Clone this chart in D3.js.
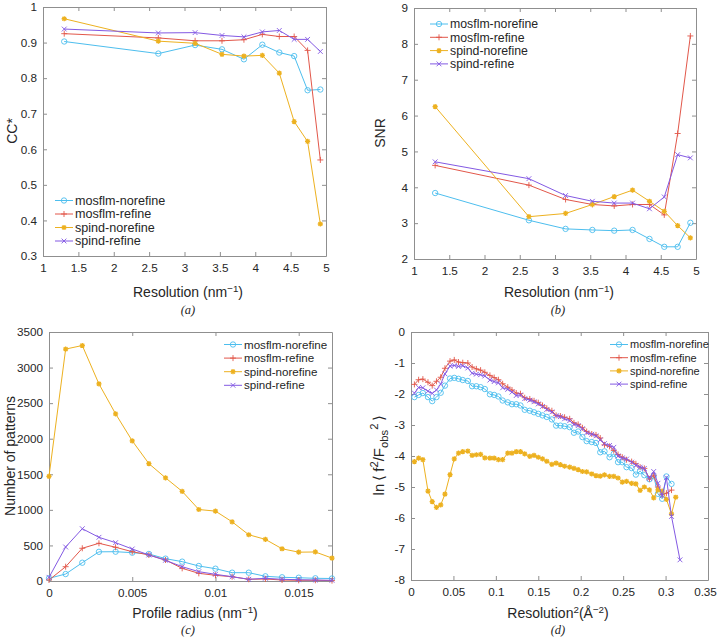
<!DOCTYPE html>
<html><head><meta charset="utf-8">
<script src="https://cdn.jsdelivr.net/npm/d3@7"></script>
<style>body{margin:0;background:#fff}svg{display:block}</style>
</head><body>
<svg id="chart" width="718" height="639"></svg>
<script>
// ---------------- DATA ----------------
const seriesNames = ["mosflm-norefine", "mosflm-refine", "spind-norefine", "spind-refine"];

// (a) and (b): resolution shells (nm^-1)
const resolution = [1.30, 2.63, 3.15, 3.53, 3.84, 4.10, 4.34, 4.55, 4.74, 4.92];
const ccMosflmNorefine = [0.903, 0.869, 0.893, 0.881, 0.853, 0.894, 0.872, 0.862, 0.766, 0.768];
const ccMosflmRefine   = [0.925, 0.913, 0.905, 0.905, 0.908, 0.923, 0.917, 0.917, 0.878, 0.570];
const ccSpindNorefine  = [0.967, 0.904, 0.898, 0.867, 0.862, 0.864, 0.814, 0.678, 0.622, 0.390];
const ccSpindRefine    = [0.938, 0.927, 0.928, 0.920, 0.916, 0.930, 0.934, 0.909, 0.909, 0.875];

const snrMosflmNorefine = [3.84, 3.08, 2.84, 2.81, 2.79, 2.81, 2.56, 2.34, 2.34, 3.01];
const snrMosflmRefine   = [4.61, 4.06, 3.66, 3.52, 3.48, 3.52, 3.52, 3.23, 5.50, 8.22];
const snrSpindNorefine  = [6.25, 3.18, 3.27, 3.52, 3.74, 3.92, 3.61, 3.33, 2.93, 2.59];
const snrSpindRefine    = [4.71, 4.24, 3.77, 3.61, 3.56, 3.56, 3.40, 3.73, 4.91, 4.82];

// (c): profile radius histogram
const profileRadius = [0, 0.001, 0.002, 0.003, 0.004, 0.005, 0.006, 0.007, 0.008, 0.009, 0.010, 0.011, 0.012, 0.013, 0.014, 0.015, 0.016, 0.017];
const nMosflmNorefine = [38, 98, 257, 410, 412, 398, 380, 314, 272, 211, 173, 117, 117, 66, 52, 46, 38, 35];
const nMosflmRefine   = [14, 201, 460, 530, 474, 412, 366, 295, 178, 108, 80, 60, 24, 28, 14, 10, 10, 5];
const nSpindNorefine  = [1470, 3260, 3310, 2770, 2350, 1970, 1650, 1450, 1260, 1005, 982, 832, 650, 585, 453, 405, 408, 322];
const nSpindRefine    = [52, 478, 735, 614, 539, 450, 366, 291, 201, 131, 94, 60, 24, 38, 24, 18, 14, 10];

// (d): Wilson-like plot, resolution^2 (A^-2)
const resSq = [0.004,0.009,0.014,0.020,0.025,0.030,0.035,0.040,0.046,0.051,0.056,0.061,0.067,0.072,0.077,0.082,0.087,0.093,0.098,0.103,0.108,0.114,0.119,0.124,0.129,0.134,0.140,0.145,0.150,0.155,0.160,0.166,0.171,0.176,0.181,0.187,0.192,0.197,0.202,0.207,0.213,0.218,0.223,0.228,0.234,0.239,0.244,0.249,0.254,0.260,0.265,0.270,0.275,0.281,0.286,0.291,0.296,0.301,0.307,0.312,0.317];
const lnMosflmNorefine = [-2.10,-2.03,-1.97,-2.10,-2.23,-2.10,-1.96,-1.73,-1.50,-1.48,-1.51,-1.55,-1.58,-1.75,-1.75,-1.78,-1.84,-2.01,-2.03,-2.08,-2.21,-2.27,-2.33,-2.33,-2.37,-2.51,-2.54,-2.59,-2.64,-2.69,-2.74,-2.82,-3.02,-3.02,-3.04,-3.07,-3.25,-3.21,-3.39,-3.52,-3.55,-3.58,-3.88,-3.85,-4.04,-3.93,-4.20,-4.20,-4.36,-4.39,-4.60,-4.49,-4.62,-4.75,-4.65,-5.22,-5.38,-4.66,-4.90];
const lnMosflmRefine = [-1.69,-1.54,-1.52,-1.62,-1.73,-1.59,-1.46,-1.17,-0.94,-0.90,-0.97,-0.99,-1.00,-1.13,-1.19,-1.23,-1.30,-1.40,-1.47,-1.54,-1.67,-1.78,-1.87,-1.97,-1.99,-2.12,-2.16,-2.22,-2.28,-2.37,-2.46,-2.54,-2.69,-2.71,-2.75,-2.80,-2.93,-2.98,-3.09,-3.21,-3.29,-3.32,-3.42,-3.64,-3.69,-3.82,-3.95,-4.04,-4.12,-4.18,-4.25,-4.36,-4.40,-4.74,-4.62,-5.00,-5.25,-5.20,-5.10];
const lnSpindNorefine = [-4.18,-4.07,-4.12,-5.13,-5.47,-5.66,-5.58,-5.23,-4.60,-4.09,-3.91,-3.86,-3.84,-3.98,-3.96,-3.95,-4.06,-4.07,-4.07,-4.12,-4.12,-3.91,-3.91,-3.86,-3.86,-3.93,-4.01,-3.98,-4.04,-4.09,-4.17,-4.27,-4.23,-4.28,-4.33,-4.36,-4.40,-4.44,-4.50,-4.51,-4.58,-4.63,-4.65,-4.61,-4.66,-4.66,-4.71,-4.84,-4.82,-4.88,-4.90,-5.11,-5.00,-5.09,-5.35,-5.09,-5.13,-5.40,-5.87,-5.33];
const lnSpindRefine = [-1.97,-1.79,-1.80,-1.91,-1.98,-1.87,-1.68,-1.35,-1.10,-1.08,-1.11,-1.09,-1.16,-1.33,-1.36,-1.38,-1.42,-1.55,-1.60,-1.64,-1.80,-1.85,-1.94,-2.05,-2.03,-2.15,-2.20,-2.25,-2.32,-2.40,-2.50,-2.58,-2.70,-2.73,-2.80,-2.86,-2.98,-3.02,-3.12,-3.25,-3.30,-3.35,-3.48,-3.60,-3.66,-3.72,-4.00,-4.06,-4.10,-4.20,-4.30,-4.36,-4.40,-4.72,-4.50,-4.88,-5.28,-4.70,-5.95,null,-7.35];

// tick values
const ticksResX = [1, 1.5, 2, 2.5, 3, 3.5, 4, 4.5, 5];
const ticksCC = [0.3, 0.4, 0.5, 0.6, 0.7, 0.8, 0.9, 1];
const ticksSNR = [2, 3, 4, 5, 6, 7, 8, 9];
const ticksRadius = [0, 0.005, 0.01, 0.015];
const ticksCount = [0, 500, 1000, 1500, 2000, 2500, 3000, 3500];
const ticksResSq = [0, 0.05, 0.1, 0.15, 0.2, 0.25, 0.3, 0.35];
const ticksLn = [-8, -7, -6, -5, -4, -3, -2, -1, 0];

// ---------------- STYLE ----------------
const FONT = "'Liberation Sans', Arial, Helvetica, sans-serif";
const AXC = "#8f8f8f";
const TXT = "#262626";
const colors = ["#4DBEEE", "#E2574A", "#EDB120", "#8359E3"];
const markers = ["circle", "plus", "star", "cross"];

function markerPath(t) {
  if (t === "circle") return "M2.7,0A2.7,2.7 0 1,1 -2.7,0A2.7,2.7 0 1,1 2.7,0Z";
  if (t === "plus") return "M-3,0H3M0,-3V3";
  if (t === "cross") return "M-2.4,-2.4L2.4,2.4M-2.4,2.4L2.4,-2.4";
  return "M-2.6,0H2.6M0,-2.6V2.6M-1.9,-1.9L1.9,1.9M-1.9,1.9L1.9,-1.9";
}

const svg = d3.select("#chart");

function richText(sel, parts, fs, supScale) {
  let shift = 0;
  const sc = supScale || 0.7;
  parts.forEach(p => {
    const target = p.sup ? -fs * 0.38 : (p.sub ? fs * 0.25 : 0);
    const ts = sel.append("tspan").text(p.t).attr("dy", target - shift);
    if (p.sup || p.sub) ts.attr("font-size", fs * sc);
    shift = target;
  });
}

function drawPanel(p) {
  const g = svg.append("g");
  const x = d3.scaleLinear().domain(p.xDomain).range([p.left, p.right]);
  const y = d3.scaleLinear().domain(p.yDomain).range([p.bottom, p.top]);
  const fmt = d => String(+d.toFixed(4));
  const style = s => {
    s.select(".domain").attr("stroke", AXC).attr("stroke-width", 1);
    s.selectAll(".tick line").attr("stroke", AXC);
    s.selectAll(".tick text").attr("fill", TXT).attr("font-size", 11.7).attr("font-family", FONT);
  };
  const xAx = g.append("g").attr("transform", `translate(0,${p.bottom})`)
    .call(d3.axisBottom(x).tickValues(p.xTicks).tickFormat(fmt).tickSizeInner(-4).tickSizeOuter(0).tickPadding(8)).call(style);
  if (p.lastTickShift) {
    xAx.selectAll(".tick text").filter((d, i, n) => i === n.length - 1).attr("dx", p.lastTickShift);
  }
  g.append("g").attr("transform", `translate(0,${p.top})`)
    .call(d3.axisTop(x).tickValues(p.xTicks).tickFormat(() => "").tickSizeInner(-4).tickSizeOuter(0)).call(style);
  g.append("g").attr("transform", `translate(${p.left},0)`)
    .call(d3.axisLeft(y).tickValues(p.yTicks).tickFormat(fmt).tickSizeInner(-4).tickSizeOuter(0).tickPadding(6)).call(style);
  g.append("g").attr("transform", `translate(${p.right},0)`)
    .call(d3.axisRight(y).tickValues(p.yTicks).tickFormat(() => "").tickSizeInner(-4).tickSizeOuter(0)).call(style);
  g.selectAll(".domain").attr("fill", "none");

  // series
  p.series.forEach((ys, k) => {
    const pts = p.xs.map((xv, i) => [xv, ys[i]]).filter(d => d[1] != null && d[1] !== undefined);
    g.append("path")
      .attr("d", d3.line().x(d => x(d[0])).y(d => y(d[1]))(pts))
      .attr("fill", "none").attr("stroke", colors[k]).attr("stroke-width", 1);
    g.append("g").selectAll("path").data(pts).join("path")
      .attr("transform", d => `translate(${x(d[0])},${y(d[1])})`)
      .attr("d", markerPath(markers[k]))
      .attr("fill", "none").attr("stroke", colors[k])
      .attr("stroke-width", markers[k] === "star" ? 1.3 : 0.9);
  });

  // legend
  const lg = g.append("g");
  seriesNames.forEach((name, k) => {
    const ly = p.legend.y + k * p.legend.dy;
    lg.append("line").attr("x1", p.legend.x).attr("x2", p.legend.x + p.legend.w)
      .attr("y1", ly).attr("y2", ly).attr("stroke", colors[k]).attr("stroke-width", 1);
    lg.append("path").attr("transform", `translate(${p.legend.x + p.legend.w / 2},${ly})`)
      .attr("d", markerPath(markers[k])).attr("fill", "none").attr("stroke", colors[k])
      .attr("stroke-width", markers[k] === "star" ? 1.3 : 0.9);
    lg.append("text").attr("x", p.legend.x + p.legend.w + 2).attr("y", ly + p.legend.fs * 0.35)
      .attr("font-family", FONT).attr("font-size", p.legend.fs).attr("fill", TXT).text(name);
  });

  // axis labels
  const LFS = 14;
  const xl = g.append("text").attr("x", p.xLabelPos[0]).attr("y", p.xLabelPos[1])
    .attr("text-anchor", "middle").attr("font-family", FONT).attr("font-size", LFS).attr("fill", TXT);
  richText(xl, p.xLabel, LFS);
  const yfs = p.yLabelSize || LFS;
  const yl = g.append("text").attr("transform", `translate(${p.yLabelPos[0]},${p.yLabelPos[1]}) rotate(-90)`)
    .attr("text-anchor", "middle").attr("font-family", FONT).attr("font-size", yfs).attr("fill", TXT);
  richText(yl, p.yLabel, yfs, p.yLabelSupScale);
  g.append("text").attr("x", p.captionPos[0]).attr("y", p.captionPos[1]).attr("text-anchor", "middle")
    .attr("font-family", "'Liberation Serif', 'Times New Roman', serif").attr("font-style", "italic")
    .attr("font-size", 12.5).attr("fill", TXT).text(p.caption);
}

const resLabel = [{t: "Resolution (nm"}, {t: "\u22121", sup: true}, {t: ")"}];

drawPanel({
  left: 43, right: 326, top: 7, bottom: 256,
  xDomain: [1, 5], yDomain: [0.3, 1], xTicks: ticksResX, yTicks: ticksCC,
  xs: resolution, series: [ccMosflmNorefine, ccMosflmRefine, ccSpindNorefine, ccSpindRefine],
  legend: {x: 55, y: 200.5, dy: 13.5, w: 18, fs: 12.6},
  xLabel: resLabel, xLabelPos: [188, 297],
  yLabel: [{t: "CC*"}], yLabelPos: [17, 131],
  caption: "(a)", captionPos: [188, 314]
});

drawPanel({
  left: 414, right: 696, top: 8, bottom: 259,
  xDomain: [1, 5], yDomain: [2, 9], xTicks: ticksResX, yTicks: ticksSNR,
  xs: resolution, series: [snrMosflmNorefine, snrMosflmRefine, snrSpindNorefine, snrSpindRefine],
  legend: {x: 430, y: 24, dy: 13.3, w: 18, fs: 12.3},
  xLabel: resLabel, xLabelPos: [559, 297],
  yLabel: [{t: "SNR"}], yLabelPos: [385, 133],
  caption: "(b)", captionPos: [558, 314]
});

drawPanel({
  left: 49, right: 332, top: 332, bottom: 581,
  xDomain: [0, 0.017], yDomain: [0, 3500], xTicks: ticksRadius, yTicks: ticksCount,
  xs: profileRadius, series: [nMosflmNorefine, nMosflmRefine, nSpindNorefine, nSpindRefine],
  legend: {x: 224, y: 344.5, dy: 13.6, w: 18, fs: 11.6},
  xLabel: [{t: "Profile radius (nm"}, {t: "\u22121", sup: true}, {t: ")"}], xLabelPos: [195, 618],
  yLabel: [{t: "Number of patterns"}], yLabelPos: [15, 456],
  caption: "(c)", captionPos: [188, 634]
});

drawPanel({
  left: 411, right: 708, top: 332, bottom: 580,
  xDomain: [0, 0.35], yDomain: [-8, 0], xTicks: ticksResSq, yTicks: ticksLn,
  xs: resSq, series: [lnMosflmNorefine, lnMosflmRefine, lnSpindNorefine, lnSpindRefine],
  legend: {x: 610, y: 344.5, dy: 13.2, w: 18, fs: 11},
  lastTickShift: -3,
  xLabel: [{t: "Resolution"}, {t: "2", sup: true}, {t: "(\u00C5"}, {t: "\u22122", sup: true}, {t: ")"}], xLabelPos: [558, 618],
  yLabel: [{t: "ln\u2009\u27E8\u2009f"}, {t: "2", sup: true}, {t: "/F"}, {t: "obs", sub: true}, {t: "2", sup: true}, {t: "\u2009\u27E9"}],
  yLabelSize: 15, yLabelSupScale: 0.75, yLabelPos: [384, 455],
  caption: "(d)", captionPos: [558, 634]
});
</script>
</body></html>
